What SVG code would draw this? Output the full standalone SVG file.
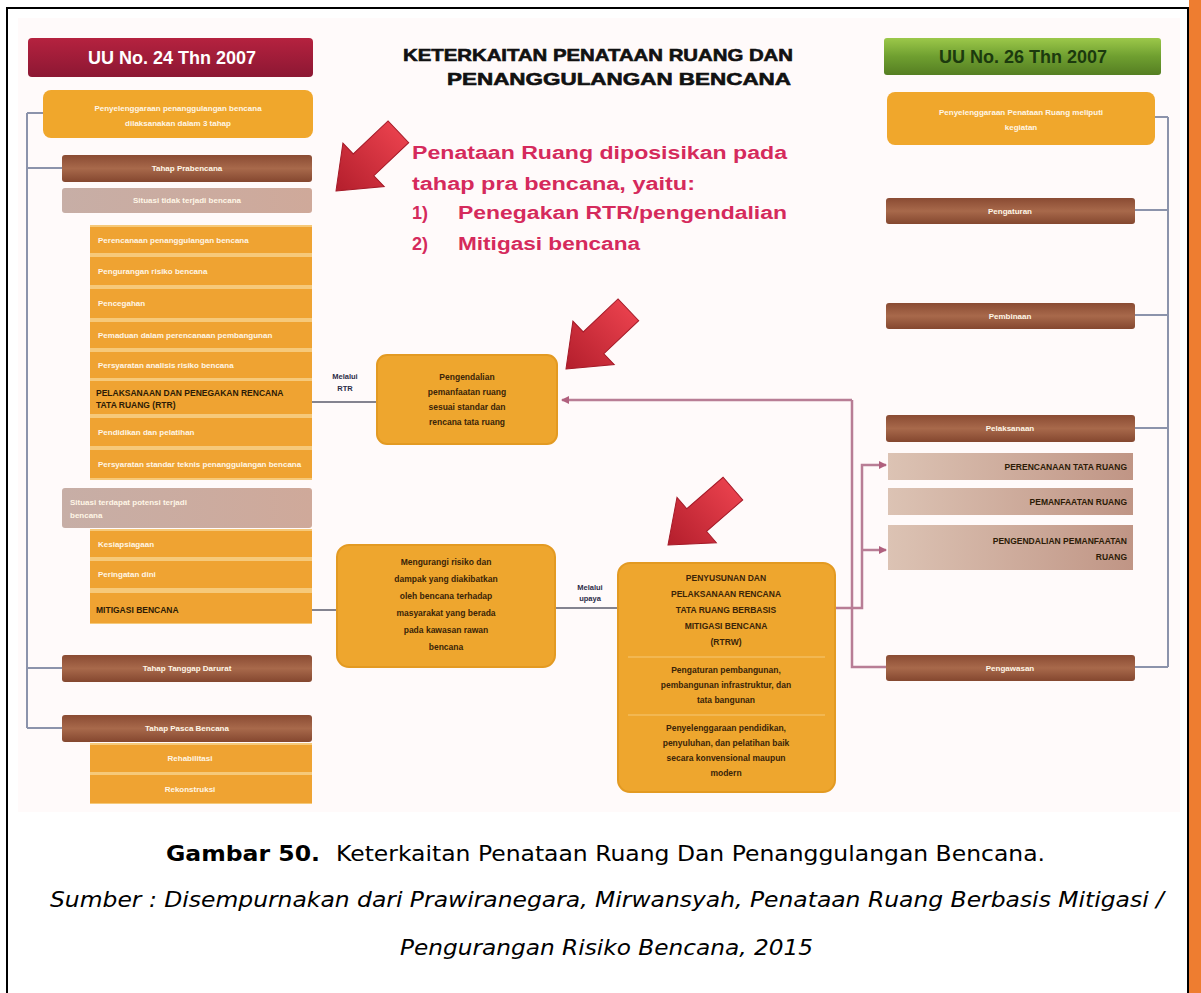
<svg xmlns="http://www.w3.org/2000/svg" width="1201" height="993" viewBox="0 0 1201 993">
<defs>
<linearGradient id="gBrown" x1="0" y1="0" x2="0" y2="1"><stop offset="0" stop-color="#8a4b33"/><stop offset="0.5" stop-color="#a8694b"/><stop offset="1" stop-color="#84472f"/></linearGradient>
<linearGradient id="gBeige" x1="0" y1="0" x2="1" y2="0"><stop offset="0" stop-color="#dcc3b4"/><stop offset="1" stop-color="#c09585"/></linearGradient>
<linearGradient id="gGrey" x1="0" y1="0" x2="1" y2="0"><stop offset="0" stop-color="#c7aea6"/><stop offset="1" stop-color="#cfa99a"/></linearGradient>
<linearGradient id="gRed" x1="0" y1="0" x2="0" y2="1"><stop offset="0" stop-color="#b5223f"/><stop offset="1" stop-color="#8c1733"/></linearGradient>
<linearGradient id="gGreen" x1="0" y1="0" x2="0" y2="1"><stop offset="0" stop-color="#9cc84a"/><stop offset="0.5" stop-color="#6f9f30"/><stop offset="1" stop-color="#557e22"/></linearGradient>
<linearGradient id="gArrow" x1="0" y1="0" x2="1" y2="0"><stop offset="0" stop-color="#e8404c"/><stop offset="1" stop-color="#b31e2c"/></linearGradient>
<path id="bigArrow" d="M0,0 L-38,-30 L-38,-15 L-86,-15 L-86,15 L-38,15 L-38,30 Z"/>
<marker id="mP" markerWidth="8" markerHeight="8" refX="7" refY="4" orient="auto" markerUnits="userSpaceOnUse"><path d="M0,0 L8,4 L0,8 Z" fill="#b0607e"/></marker>
</defs>
<style>
.org{fill:#efa332}
.orgL{fill:#f6c97a}
.box{fill:#eea62e;stroke:#e39a22;stroke-width:2}
.brn{fill:url(#gBrown)}
.bei{fill:url(#gBeige)}
.wt{font-family:"Liberation Sans",Arial,sans-serif;font-size:8px;font-weight:bold;fill:#fff6e6}
.wc{font-family:"Liberation Sans",Arial,sans-serif;font-size:8px;font-weight:bold;fill:#fff6e6;text-anchor:middle}
.dk{font-family:"Liberation Sans",Arial,sans-serif;font-size:8.5px;font-weight:bold;fill:#2c1b06}
.dc{font-family:"Liberation Sans",Arial,sans-serif;font-size:8.5px;font-weight:bold;fill:#3a2408;text-anchor:middle}
.dr{font-family:"Liberation Sans",Arial,sans-serif;font-size:8.5px;font-weight:bold;fill:#2c1b06;text-anchor:end}
.lbl{font-family:"Liberation Sans",Arial,sans-serif;font-size:7.5px;font-weight:bold;fill:#2c2c48;text-anchor:middle}
.red{font-family:"Liberation Sans",Arial,sans-serif;font-size:18px;font-weight:bold;fill:#d52a5c}
.ttl{font-family:"Liberation Sans",Arial,sans-serif;font-size:17px;font-weight:900;fill:#111;stroke:#111;stroke-width:0.6}
.conG{stroke:#8c93ab;stroke-width:2;fill:none}
.conP{stroke:#b87d95;stroke-width:2.5;fill:none}
.conD{stroke:#5c5c6c;stroke-width:1.3;fill:none}
.arr{fill:url(#gArrow);stroke:#a51a28;stroke-width:1}
.cap{font-family:"DejaVu Sans",Verdana,sans-serif;font-size:21px;fill:#000}
</style>
<rect x="0" y="0" width="1201" height="993" fill="#ffffff"/>
<!-- frame -->
<rect x="1189" y="0" width="12" height="993" fill="#ee7d30"/>
<path d="M7,993 V8 H1188 V993" fill="none" stroke="#000" stroke-width="2"/>
<rect x="18" y="18" width="1162" height="794" fill="#fffafa"/>

<!-- connectors -->
<g id="connectors">
<path class="conG" d="M27,113 V728 M27,113 H43 M27,168 H62 M27,668 H62 M27,728 H62"/>
<path class="conG" d="M1168,117 V667 M1155,117 H1168 M1135,210 H1168 M1135,315 H1168 M1135,428 H1168 M1135,667 H1168"/>
<path class="conP" d="M852,400 H562" marker-end="url(#mP)"/>
<path class="conP" d="M852,400 V667 H888"/>
<path class="conP" d="M835,608 H862 V465 H886" marker-end="url(#mP)"/>
<path class="conP" d="M862,550 H886" marker-end="url(#mP)"/>
<path class="conD" d="M312,402 H377 M312,610 H337 M555,608 H618"/>
</g>

<!-- title -->
<g id="title">
<text class="ttl" x="403" y="61" textLength="390" lengthAdjust="spacingAndGlyphs">KETERKAITAN PENATAAN RUANG DAN</text>
<text class="ttl" x="447" y="85" textLength="344" lengthAdjust="spacingAndGlyphs">PENANGGULANGAN BENCANA</text>
</g>

<g id="note">
<text class="red" x="412" y="159" textLength="375" lengthAdjust="spacingAndGlyphs">Penataan Ruang  diposisikan pada</text>
<text class="red" x="412" y="190" textLength="283" lengthAdjust="spacingAndGlyphs">tahap pra bencana, yaitu:</text>
<text class="red" x="412" y="219">1)</text>
<text class="red" x="458" y="219" textLength="329" lengthAdjust="spacingAndGlyphs">Penegakan RTR/pengendalian</text>
<text class="red" x="412" y="250">2)</text>
<text class="red" x="458" y="250" textLength="182" lengthAdjust="spacingAndGlyphs">Mitigasi bencana</text>
</g>

<!-- red arrows -->
<g id="arrows">
<use href="#bigArrow" class="arr" transform="translate(336,191) rotate(136.5)"/>
<use href="#bigArrow" class="arr" transform="translate(566,369) rotate(136.5)"/>
<use href="#bigArrow" class="arr" transform="translate(668,545) rotate(139)"/>
</g>

<!-- left column -->
<g id="hdr-left">
<rect x="28" y="38" width="285" height="39" rx="4" fill="url(#gRed)"/>
<text x="172" y="64" text-anchor="middle" font-family="Liberation Sans, Arial, sans-serif" font-size="18" font-weight="bold" fill="#fff">UU No. 24 Thn 2007</text>
</g>
<g id="l-top">
<rect x="43" y="90" width="270" height="48" rx="8" fill="#f0a72c"/>
<text class="wc" x="178" y="111">Penyelenggaraan penanggulangan bencana</text>
<text class="wc" x="178" y="126">dilaksanakan dalam 3 tahap</text>
</g>
<g id="l-prabencana">
<rect x="62" y="155" width="250" height="27" rx="3" class="brn"/>
<text class="wc" x="187" y="171">Tahap Prabencana</text>
</g>
<g id="l-tidak">
<rect x="62" y="188" width="250" height="25" rx="3" fill="url(#gGrey)"/>
<text class="wc" x="187" y="203">Situasi tidak terjadi bencana</text>
</g>
<g id="l-stack1">
<rect x="90" y="225" width="222" height="255" class="orgL"/>
<rect x="90" y="227" width="222" height="26" class="org"/>
<text class="wt" x="98" y="243">Perencanaan penanggulangan bencana</text>
<rect x="90" y="257" width="222" height="28" class="org"/>
<text class="wt" x="98" y="274">Pengurangan risiko bencana</text>
<rect x="90" y="289" width="222" height="29" class="org"/>
<text class="wt" x="98" y="306">Pencegahan</text>
<rect x="90" y="322" width="222" height="26" class="org"/>
<text class="wt" x="98" y="338">Pemaduan dalam perencanaan pembangunan</text>
<rect x="90" y="352" width="222" height="26" class="org"/>
<text class="wt" x="98" y="368">Persyaratan analisis risiko bencana</text>
<rect x="90" y="381" width="222" height="33" class="org"/>
<text class="dk" x="96" y="396">PELAKSANAAN DAN PENEGAKAN RENCANA</text>
<text class="dk" x="96" y="408">TATA RUANG (RTR)</text>
<rect x="90" y="418" width="222" height="28" class="org"/>
<text class="wt" x="98" y="435">Pendidikan dan pelatihan</text>
<rect x="90" y="450" width="222" height="28" class="org"/>
<text class="wt" x="98" y="467">Persyaratan standar teknis penanggulangan bencana</text>
</g>
<g id="l-potensi">
<rect x="62" y="488" width="250" height="40" rx="3" fill="url(#gGrey)"/>
<text class="wt" x="70" y="505">Situasi terdapat potensi terjadi</text>
<text class="wt" x="70" y="518">bencana</text>
</g>
<g id="l-stack2">
<rect x="90" y="529" width="222" height="95" class="orgL"/>
<rect x="90" y="531" width="222" height="26" class="org"/>
<text class="wt" x="98" y="547">Kesiapsiagaan</text>
<rect x="90" y="561" width="222" height="27" class="org"/>
<text class="wt" x="98" y="577">Peringatan dini</text>
<rect x="90" y="593" width="222" height="30" class="org"/>
<text class="dk" x="96" y="613">MITIGASI BENCANA</text>
</g>
<g id="l-darurat">
<rect x="62" y="655" width="250" height="27" rx="3" class="brn"/>
<text class="wc" x="187" y="671">Tahap Tanggap Darurat</text>
</g>
<g id="l-pasca">
<rect x="62" y="715" width="250" height="27" rx="3" class="brn"/>
<text class="wc" x="187" y="731">Tahap Pasca Bencana</text>
</g>
<g id="l-stack3">
<rect x="90" y="743" width="222" height="61" class="orgL"/>
<rect x="90" y="745" width="222" height="27" class="org"/>
<text class="wc" x="190" y="761">Rehabilitasi</text>
<rect x="90" y="775" width="222" height="28" class="org"/>
<text class="wc" x="190" y="792">Rekonstruksi</text>
</g>

<!-- middle -->
<g id="m-top">
<rect x="377" y="355" width="180" height="89" rx="10" class="box"/>
<text class="dc" x="467" y="380">Pengendalian</text>
<text class="dc" x="467" y="395">pemanfaatan ruang</text>
<text class="dc" x="467" y="410">sesuai standar dan</text>
<text class="dc" x="467" y="425">rencana tata ruang</text>
</g>
<g id="lbl-rtr">
<text class="lbl" x="345" y="379">Melalui</text>
<text class="lbl" x="345" y="391">RTR</text>
</g>
<g id="m-left">
<rect x="337" y="545" width="218" height="122" rx="12" class="box"/>
<text class="dc" x="446" y="565">Mengurangi risiko dan</text>
<text class="dc" x="446" y="582">dampak yang diakibatkan</text>
<text class="dc" x="446" y="599">oleh bencana terhadap</text>
<text class="dc" x="446" y="616">masyarakat yang berada</text>
<text class="dc" x="446" y="633">pada kawasan rawan</text>
<text class="dc" x="446" y="650">bencana</text>
</g>
<g id="lbl-upaya">
<text class="lbl" x="590" y="590">Melalui</text>
<text class="lbl" x="590" y="601">upaya</text>
</g>
<g id="m-right">
<rect x="618" y="563" width="217" height="229" rx="12" class="box"/>
<path d="M628,657 H825 M628,715 H825" stroke="#f4bd5e" stroke-width="1.5"/>
<text class="dc" x="726" y="581">PENYUSUNAN DAN</text>
<text class="dc" x="726" y="597">PELAKSANAAN RENCANA</text>
<text class="dc" x="726" y="613">TATA RUANG BERBASIS</text>
<text class="dc" x="726" y="629">MITIGASI BENCANA</text>
<text class="dc" x="726" y="645">(RTRW)</text>
<text class="dc" x="726" y="673" font-weight="normal">Pengaturan pembangunan,</text>
<text class="dc" x="726" y="688" font-weight="normal">pembangunan infrastruktur, dan</text>
<text class="dc" x="726" y="703" font-weight="normal">tata bangunan</text>
<text class="dc" x="726" y="731" font-weight="normal">Penyelenggaraan pendidikan,</text>
<text class="dc" x="726" y="746" font-weight="normal">penyuluhan, dan pelatihan baik</text>
<text class="dc" x="726" y="761" font-weight="normal">secara konvensional maupun</text>
<text class="dc" x="726" y="776" font-weight="normal">modern</text>
</g>

<!-- right column -->
<g id="hdr-right">
<rect x="884" y="38" width="277" height="37" rx="3" fill="url(#gGreen)"/>
<text x="1023" y="63" text-anchor="middle" font-family="Liberation Sans, Arial, sans-serif" font-size="18" font-weight="bold" fill="#1c3a0e">UU No. 26 Thn 2007</text>
</g>
<g id="r-top">
<rect x="887" y="92" width="268" height="53" rx="8" fill="#f0a72c"/>
<text class="wc" x="1021" y="115">Penyelenggaraan Penataan Ruang meliputi</text>
<text class="wc" x="1021" y="130">kegiatan</text>
</g>
<g id="r-pengaturan">
<rect x="886" y="198" width="249" height="26" rx="3" class="brn"/>
<text class="wc" x="1010" y="214">Pengaturan</text>
</g>
<g id="r-pembinaan">
<rect x="886" y="303" width="249" height="26" rx="3" class="brn"/>
<text class="wc" x="1010" y="319">Pembinaan</text>
</g>
<g id="r-pelaksanaan">
<rect x="886" y="415" width="249" height="27" rx="3" class="brn"/>
<text class="wc" x="1010" y="431">Pelaksanaan</text>
</g>
<g id="r-perencanaan">
<rect x="888" y="453" width="245" height="27" class="bei"/>
<text class="dr" x="1127" y="470">PERENCANAAN TATA RUANG</text>
</g>
<g id="r-pemanfaatan">
<rect x="888" y="488" width="245" height="27" class="bei"/>
<text class="dr" x="1127" y="505">PEMANFAATAN RUANG</text>
</g>
<g id="r-pengendalian">
<rect x="888" y="525" width="245" height="45" class="bei"/>
<text class="dr" x="1127" y="544">PENGENDALIAN PEMANFAATAN</text>
<text class="dr" x="1127" y="560">RUANG</text>
</g>
<g id="r-pengawasan">
<rect x="886" y="655" width="249" height="26" rx="3" class="brn"/>
<text class="wc" x="1010" y="671">Pengawasan</text>
</g>

<!-- caption -->
<g id="caption">
<text class="cap" x="166" y="861" font-weight="bold" textLength="154" lengthAdjust="spacingAndGlyphs">Gambar 50.</text>
<text class="cap" x="336" y="861" textLength="709" lengthAdjust="spacingAndGlyphs">Keterkaitan Penataan Ruang Dan Penanggulangan Bencana.</text>
<text class="cap" x="50" y="907" font-style="italic" textLength="1114" lengthAdjust="spacingAndGlyphs">Sumber : Disempurnakan dari Prawiranegara, Mirwansyah, Penataan Ruang Berbasis Mitigasi /</text>
<text class="cap" x="400" y="955" font-style="italic" textLength="413" lengthAdjust="spacingAndGlyphs">Pengurangan Risiko Bencana, 2015</text>
</g>
</svg>
